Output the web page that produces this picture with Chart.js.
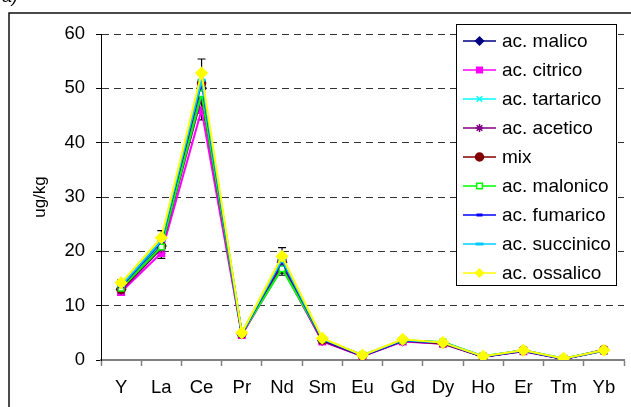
<!DOCTYPE html>
<html>
<head>
<meta charset="utf-8">
<script src="https://cdn.jsdelivr.net/npm/chart.js@4/dist/chart.umd.min.js"></script>
<style>
  body { margin: 0; background: #fff; }
  canvas { display: block; }
</style>
</head>
<body>
<canvas id="chart" width="631" height="407"></canvas>
<script>
const elements = ["Y", "La", "Ce", "Pr", "Nd", "Sm", "Eu", "Gd", "Dy", "Ho", "Er", "Tm", "Yb"];
const yTicks = [0, 10, 20, 30, 40, 50, 60];

const malico    = [13.0, 21.0, 50.0, 4.8, 18.0, 3.7, 0.8, 3.5, 3.1, 0.6, 1.7, 0.2, 1.8];
const citrico   = [12.5, 19.7, 46.0, 4.6, 17.0, 3.4, 0.7, 3.4, 3.0, 0.6, 1.6, 0.2, 1.7];
const tartarico = [13.3, 21.5, 50.5, 4.9, 18.0, 3.8, 0.8, 3.6, 3.2, 0.6, 1.7, 0.2, 1.8];
const acetico   = [12.8, 20.5, 48.4, 4.7, 17.5, 3.5, 0.7, 3.5, 3.0, 0.6, 1.6, 0.2, 1.7];
const mix       = [13.0, 21.0, 51.0, 4.8, 18.3, 3.7, 0.8, 3.7, 3.1, 0.6, 1.8, 0.2, 1.9];
const malonico  = [13.2, 20.8, 49.0, 4.9, 16.8, 3.9, 0.9, 3.6, 3.3, 0.7, 1.8, 0.3, 1.7];
const fumarico  = [13.5, 21.8, 51.2, 4.9, 18.2, 3.8, 0.8, 3.6, 3.2, 0.6, 1.7, 0.2, 1.8];
const succinico = [13.7, 22.0, 51.5, 5.0, 18.5, 3.9, 0.9, 3.7, 3.2, 0.7, 1.8, 0.3, 1.8];
const ossalico  = [14.2, 22.5, 52.8, 5.0, 19.1, 4.0, 0.9, 3.8, 3.2, 0.7, 1.8, 0.3, 1.8];

// +/- error values (only a few series carry visible bars)
const errCitrico  = [0.5, 1.0, 1.8, 0.2, 1.0, 0.2, 0.1, 0.1, 0.1, 0.1, 0.1, 0.05, 0.1];
const errMalonico = [0.6, 1.2, 1.5, 0.2, 1.2, 0.2, 0.1, 0.2, 0.1, 0.1, 0.1, 0.05, 0.1];
const errOssalico = [0.5, 1.3, 2.6, 0.2, 1.6, 0.2, 0.1, 0.2, 0.2, 0.1, 0.1, 0.05, 0.1];

const series = [
  { label: "ac. malico",    data: malico,    color: "#000080", style: "rectRot",  r: 4.5 },
  { label: "ac. citrico",   data: citrico,   color: "#ff00ff", style: "rect",     r: 4.5, err: errCitrico },
  { label: "ac. tartarico", data: tartarico, color: "#00ffff", style: "crossRot", r: 4.5 },
  { label: "ac. acetico",   data: acetico,   color: "#800080", style: "star",     r: 4.5 },
  { label: "mix",           data: mix,       color: "#800000", style: "circle",   r: 4 },
  { label: "ac. malonico",  data: malonico,  color: "#00ff00", style: "rect",     r: 4, open: true, err: errMalonico },
  { label: "ac. fumarico",  data: fumarico,  color: "#0000ff", style: "line",     r: 3 },
  { label: "ac. succinico", data: succinico, color: "#00ccff", style: "line",     r: 4 },
  { label: "ac. ossalico",  data: ossalico,  color: "#ffff00", style: "rectRot",  r: 5.5, err: errOssalico },
];

const FONT = "'Liberation Sans', Arial, sans-serif";

const errorBars = {
  id: "errorBars",
  beforeDatasetsDraw(chart) {
    const { ctx, scales } = chart;
    ctx.save();
    ctx.strokeStyle = "#000";
    ctx.lineWidth = 1.2;
    series.forEach((s) => {
      if (!s.err) return;
      s.data.forEach((v, i) => {
        const x = scales.x.getPixelForValue(i);
        const top = scales.y.getPixelForValue(v + s.err[i]);
        const bot = scales.y.getPixelForValue(v - s.err[i]);
        ctx.beginPath();
        ctx.moveTo(x, top); ctx.lineTo(x, bot);
        ctx.moveTo(x - 4, top); ctx.lineTo(x + 4, top);
        ctx.moveTo(x - 4, bot); ctx.lineTo(x + 4, bot);
        ctx.stroke();
      });
    });
    ctx.restore();
  },
};

const frame = {
  id: "frame",
  afterDraw(chart) {
    const { ctx } = chart;
    ctx.save();
    // outer frame (runs off the right and bottom of the picture)
    ctx.strokeStyle = "#111";
    ctx.lineWidth = 1.5;
    ctx.beginPath();
    ctx.moveTo(9, 407); ctx.lineTo(9, 13); ctx.lineTo(631, 13);
    ctx.stroke();
    ctx.fillStyle = "#000";
    ctx.font = "italic 18px " + FONT;
    ctx.textBaseline = "alphabetic";
    ctx.fillText("a)", 2, 2);

    // legend
    const bx = 456, by = 24, bw = 160, bh = 261;
    ctx.fillStyle = "#fff";
    ctx.fillRect(bx, by, bw, bh);
    ctx.strokeStyle = "#000";
    ctx.lineWidth = 1;
    ctx.strokeRect(bx + 0.5, by + 0.5, bw, bh);
    ctx.font = "19px " + FONT;
    ctx.textBaseline = "middle";
    series.forEach((s, i) => {
      const y = 41 + i * 29;
      ctx.strokeStyle = s.color;
      ctx.lineWidth = 1.5;
      ctx.beginPath();
      ctx.moveTo(463, y); ctx.lineTo(496, y);
      ctx.stroke();
      ctx.fillStyle = s.open ? "#fff" : s.color;
      ctx.strokeStyle = s.color;
      ctx.lineWidth = s.style === "line" ? 3 : 1.5;
      Chart.helpers.drawPoint(ctx, { pointStyle: s.style, radius: Math.min(s.r, 4), rotation: 0, borderWidth: ctx.lineWidth }, 479.5, y);
      ctx.fillStyle = "#000";
      ctx.fillText(s.label, 502, y + 1);
    });
    ctx.restore();
  },
};

new Chart(document.getElementById("chart"), {
  type: "line",
  data: {
    labels: elements,
    datasets: series.map((s, i) => ({
      label: s.label,
      data: s.data,
      borderColor: s.color,
      backgroundColor: s.open ? "#fff" : s.color,
      pointBorderColor: s.color,
      pointBackgroundColor: s.open ? "#fff" : s.color,
      pointStyle: s.style,
      pointRadius: s.r,
      pointBorderWidth: s.style === "line" ? 3 : 1.5,
      borderWidth: 2,
      tension: 0,
      order: series.length - i,
    })),
  },
  options: {
    responsive: false,
    animation: false,
    layout: { padding: { top: 34, right: 6, left: 0, bottom: 0 } },
    plugins: { legend: { display: false }, tooltip: { enabled: false } },
    scales: {
      x: {
        offset: true,
        grid: { offset: true, drawOnChartArea: false, tickLength: 6, color: "#808080", tickWidth: 1.5 },
        border: { color: "#808080", width: 2 },
        ticks: { color: "#000", padding: 11, font: { family: FONT, size: 18.5 } },
        afterFit(scale) { scale.height = 47; },
      },
      y: {
        min: 0,
        max: 60,
        afterBuildTicks(scale) { scale.ticks = yTicks.map((v) => ({ value: v })); },
        grid: { color: "#333", tickLength: 5, tickBorderDash: [], tickColor: "#000" },
        border: { color: "#000", width: 1, dash: [7, 5] },
        ticks: { color: "#000", padding: 11, font: { family: FONT, size: 18.5 } },
        title: { display: true, text: "ug/kg", color: "#000", font: { family: FONT, size: 17 }, padding: { top: 30, bottom: 0 } },
        afterFit(scale) { scale.width = 101; },
      },
    },
  },
  plugins: [errorBars, frame],
});
</script>
</body>
</html>
